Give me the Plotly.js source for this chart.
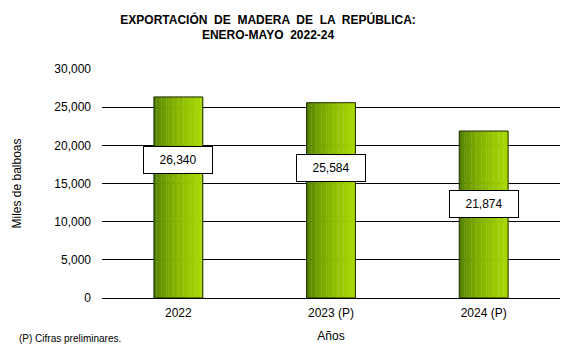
<!DOCTYPE html>
<html>
<head>
<meta charset="utf-8">
<script src="https://cdn.plot.ly/plotly-3.0.1.min.js"></script>
<style>html,body{margin:0;padding:0;background:#fff;}#chart{width:562px;height:346px;}</style>
</head>
<body>
<div id="chart"></div>
<script>
const categories = ["2022", "2023 (P)", "2024 (P)"];
const values = [26340, 25584, 21874];
const tickValues = [0, 5000, 10000, 15000, 20000, 25000, 30000];
const tickLabels = ["0", "5,000", "10,000", "15,000", "20,000", "25,000", "30,000"];

const FONT = "Liberation Sans, Arial, sans-serif";
const barWidth = 0.32;
const slices = 20;
const c0 = [72, 116, 0], c1 = [170, 218, 0];
const traces = [];
for (let i = 0; i < slices; i++) {
  const t = Math.pow((i + 0.5) / slices, 0.6);
  const col = c0.map((v, k) => Math.round(v + (c1[k] - v) * t));
  traces.push({
    type: "bar", x: categories, y: values,
    width: barWidth / slices + 0.002,
    offset: -barWidth / 2 + i * barWidth / slices,
    marker: {color: `rgb(${col.join(",")})`, line: {width: 0}},
    hoverinfo: "skip", showlegend: false
  });
}
traces.push({
  type: "bar", x: categories, y: values, width: barWidth, offset: -barWidth / 2,
  marker: {color: "rgba(0,0,0,0)", line: {color: "#1c2600", width: 1}},
  hoverinfo: "skip", showlegend: false
});

const labelFrac = [0.686, 0.666, 0.563];
const annotations = categories.map((c, i) => ({
  x: i, y: values[i] * labelFrac[i], xref: "x", yref: "y",
  text: values[i].toLocaleString("en-US"), showarrow: false,
  font: {family: FONT, size: 12, color: "#000"},
  bgcolor: "#fff", bordercolor: "#000", borderwidth: 1,
  width: 64, height: 22, borderpad: 2
}));
annotations.push({
  x: -0.185, y: -0.178, xref: "paper", yref: "paper", xanchor: "left", yanchor: "middle",
  text: "(P) Cifras preliminares.", showarrow: false,
  font: {family: FONT, size: 10, color: "#000"}
});

const layout = {
  width: 562, height: 346,
  margin: {l: 102, r: 2, t: 69, b: 48},
  paper_bgcolor: "#fff", plot_bgcolor: "#fff",
  barmode: "overlay",
  font: {family: FONT, size: 12, color: "#000"},
  title: {
    text: "<b>EXPORTACIÓN  DE  MADERA  DE  LA  REPÚBLICA:<br>ENERO-MAYO  2022-24</b>",
    font: {family: FONT, size: 12, color: "#000"},
    x: 0.477, xref: "container", xanchor: "center",
    y: 0.932, yref: "container", yanchor: "top"
  },
  xaxis: {
    type: "category", showgrid: false, showline: true, linecolor: "#000", linewidth: 1,
    ticks: "outside", ticklen: 4, tickcolor: "rgba(0,0,0,0)", tickfont: {family: FONT, size: 12},
    title: {text: "Años", font: {family: FONT, size: 12}, standoff: 12},
    automargin: false, range: [-0.5, 2.5], fixedrange: true
  },
  yaxis: {
    range: [0, 30000], tickvals: tickValues, ticktext: tickLabels,
    showgrid: true, gridcolor: "#000", gridwidth: 1, zeroline: false,
    showline: false, ticks: "", ticklabelstandoff: 10,
    tickfont: {family: FONT, size: 12},
    title: {text: "Miles de balboas", font: {family: FONT, size: 12}, standoff: 30},
    automargin: false, fixedrange: true
  },
  annotations: annotations
};

Plotly.newPlot("chart", traces, layout, {displayModeBar: false, staticPlot: true});
</script>
</body>
</html>
